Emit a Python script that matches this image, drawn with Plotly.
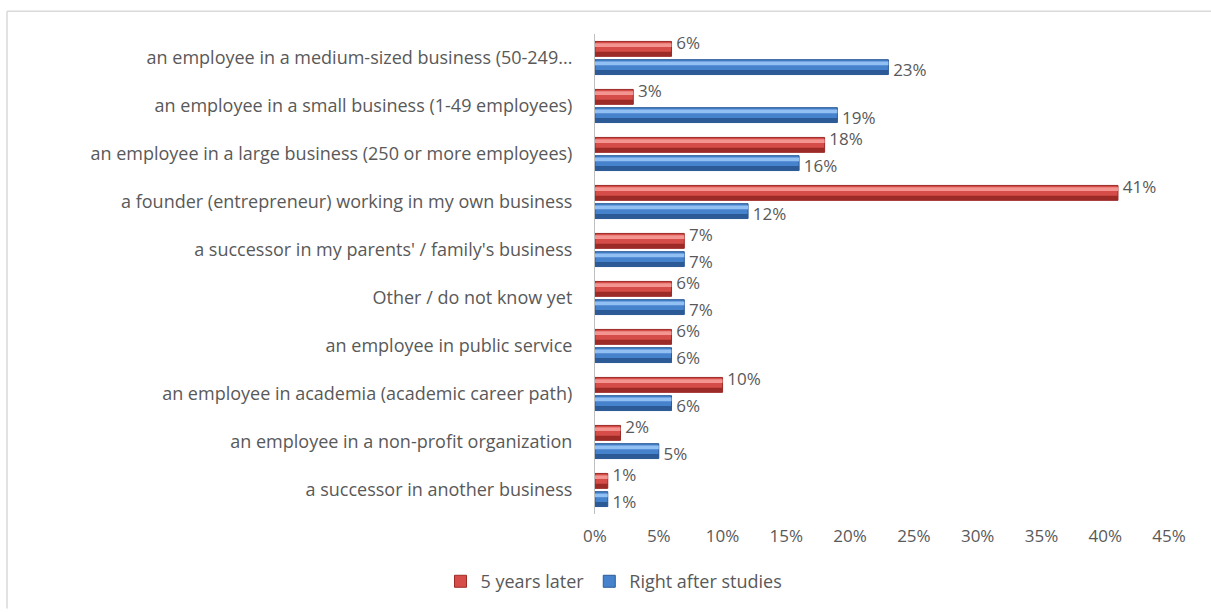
import plotly.graph_objects as go

# Career intentions: share of respondents per option
categories = [
    "an employee in a medium-sized business (50-249...",
    "an employee in a small business (1-49 employees)",
    "an employee in a large business (250 or more employees)",
    "a founder (entrepreneur) working in my own business",
    "a successor in my parents' / family's business",
    "Other / do not know yet",
    "an employee in public service",
    "an employee in academia (academic career path)",
    "an employee in a non-profit organization",
    "a successor in another business",
]
five_years_later = [6, 3, 18, 41, 7, 6, 6, 10, 2, 1]
right_after_studies = [23, 19, 16, 12, 7, 7, 6, 6, 5, 1]

x_ticks = [0, 5, 10, 15, 20, 25, 30, 35, 40, 45]
x_tick_labels = ["0%", "5%", "10%", "15%", "20%", "25%", "30%", "35%", "40%", "45%"]

W, H = 1211, 612
M_L, M_R, M_T, M_B = 595, 42, 34, 95
TEXT_GRAY = "#595959"
FONT = "Open Sans"

BAR_W = 0.31
# (name, values, group offset, mid colour, dark edge, highlight, label placement)
series = [
    ("5 years later", five_years_later, -0.345, "#D64C48", "#9C2B28", "#F39591", "top right"),
    ("Right after studies", right_after_studies, 0.035, "#4683CC", "#2B5A96", "#93C0F2", "bottom right"),
]

fig = go.Figure()
for name, vals, off, mid, dark, light, _ in series:
    # body of the bar, carries the legend entry
    fig.add_trace(go.Bar(
        y=categories, x=vals, orientation="h", name=name,
        offset=off, width=BAR_W,
        marker=dict(color=mid, line=dict(color=dark, width=1)),
        hoverinfo="skip",
    ))
    # shaded lower edge
    fig.add_trace(go.Bar(
        y=categories, x=vals, orientation="h", showlegend=False,
        offset=off + 0.215, width=BAR_W - 0.215,
        marker=dict(color=dark, line=dict(width=0)), hoverinfo="skip",
    ))
    # glossy highlight near the top
    fig.add_trace(go.Bar(
        y=categories, x=vals, orientation="h", showlegend=False,
        offset=off + 0.04, width=0.075,
        marker=dict(color=light, line=dict(width=0)), hoverinfo="skip",
    ))

# value labels: red above the group centre line, blue below it
for name, vals, off, mid, dark, light, pos in series:
    fig.add_trace(go.Scatter(
        y=categories, x=vals, mode="markers+text", showlegend=False,
        marker=dict(size=6, opacity=0),
        text=[f"{v}%" for v in vals], textposition=pos,
        textfont=dict(family=FONT, size=17, color=TEXT_GRAY),
        cliponaxis=False, hoverinfo="skip",
    ))

plot_w = W - M_L - M_R
plot_h = H - M_T - M_B
fx = lambda px: (px - M_L) / plot_w
fy = lambda py: (H - M_B - py) / plot_h

frame = dict(color="#D9D9D9", width=1.5)
shapes = [
    dict(type="line", xref="paper", yref="paper", x0=fx(7), x1=fx(W), y0=fy(11), y1=fy(11), line=frame),
    dict(type="line", xref="paper", yref="paper", x0=fx(7), x1=fx(7), y0=fy(11), y1=fy(H), line=frame),
]

fig.update_layout(
    width=W, height=H,
    margin=dict(l=M_L, r=M_R, t=M_T, b=M_B),
    paper_bgcolor="white", plot_bgcolor="white",
    barmode="overlay",
    font=dict(family=FONT, color=TEXT_GRAY),
    xaxis=dict(
        range=[0, 45], tickvals=x_ticks, ticktext=x_tick_labels,
        showgrid=False, zeroline=False, showline=False, ticks="",
        tickfont=dict(family=FONT, size=17, color=TEXT_GRAY),
        ticklabelstandoff=10,
    ),
    yaxis=dict(
        type="category", categoryorder="array", categoryarray=categories,
        range=[len(categories) - 0.5, -0.5],
        showgrid=False, zeroline=False,
        showline=True, linecolor="#BFBFBF", linewidth=1, ticks="",
        tickfont=dict(family=FONT, size=18, color=TEXT_GRAY),
        ticklabelstandoff=18,
    ),
    legend=dict(
        orientation="h", x=fx(614), xanchor="center", y=fy(585), yanchor="middle",
        font=dict(family=FONT, size=18, color=TEXT_GRAY),
        traceorder="normal", itemwidth=30,
    ),
    shapes=shapes,
    showlegend=True,
)

fig.write_html("out.html")
